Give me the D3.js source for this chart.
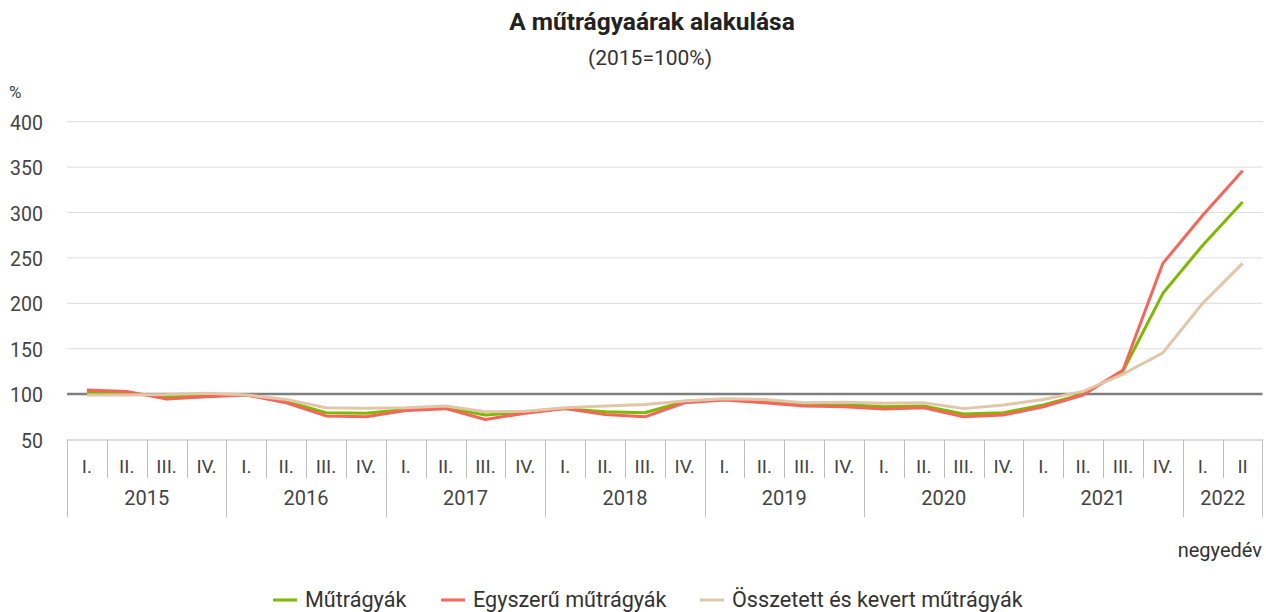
<!DOCTYPE html>
<html>
<head>
<meta charset="utf-8">
<script src="https://cdn.jsdelivr.net/npm/d3@7"></script>
<style>
  body { margin: 0; background: #fff; }
  svg { font-family: Roboto, "Noto Sans", sans-serif; }
</style>
</head>
<body>
<svg id="chart" width="1266" height="612"></svg>
<script>
// data
const categories = [
  "2015 I.", "2015 II.", "2015 III.", "2015 IV.",
  "2016 I.", "2016 II.", "2016 III.", "2016 IV.",
  "2017 I.", "2017 II.", "2017 III.", "2017 IV.",
  "2018 I.", "2018 II.", "2018 III.", "2018 IV.",
  "2019 I.", "2019 II.", "2019 III.", "2019 IV.",
  "2020 I.", "2020 II.", "2020 III.", "2020 IV.",
  "2021 I.", "2021 II.", "2021 III.", "2021 IV.",
  "2022 I.", "2022 II"
]
const years = ["2015", "2016", "2017", "2018", "2019", "2020", "2021", "2022"]

const mutragyak = [102, 101, 97, 98, 99, 92, 79.5, 79, 83, 85, 77, 80, 84, 80.5, 79.5, 92,
  94, 92, 88.5, 88.5, 86, 87, 78, 79.5, 88, 100, 125.5, 211, 264, 311.5]
const egyszeru = [104.5, 103, 94.5, 97, 99, 90.5, 76, 75, 82, 84, 72, 79, 84, 77.5, 75, 90.5,
  93.5, 90.5, 87, 86, 83.5, 85, 75, 77, 86, 99, 126.5, 244, 297, 346]
const osszetett = [99, 99, 99.5, 101, 99, 94, 85, 84.5, 85, 87, 80.5, 81, 85, 87, 88.5, 92.5,
  95, 94, 90.5, 91, 90, 90.5, 84, 88, 94, 103, 122, 145.5, 200, 244]

const seriesNames = ["Műtrágyák", "Egyszerű műtrágyák", "Összetett és kevert műtrágyák"]
const seriesColors = ["#7fb800", "#f5655a", "#e2c6aa"]
const yTicks = [50, 100, 150, 200, 250, 300, 350, 400]

const series = [mutragyak, egyszeru, osszetett].map((values, i) => ({
  name: seriesNames[i],
  color: seriesColors[i],
  values: values.map((v, j) => ({cat: categories[j], value: v}))
}))

/*************************
 *  scales
*************************/
const svg = d3.select('#chart')
const plotLeft = 67, plotRight = 1262.5, plotTop = 121.7, plotBottom = 439.5

const x = d3.scaleBand()
  .domain(categories)
  .range([plotLeft, plotRight])

const y = d3.scaleLinear()
  .domain([50, 400])
  .range([plotBottom, plotTop])

/*************************
 *  titles
*************************/
svg.append('text')
  .attr('x', 652).attr('y', 30)
  .attr('text-anchor', 'middle')
  .attr('font-size', 24.5).attr('font-weight', 'bold')
  .attr('fill', '#222')
  .text('A műtrágyaárak alakulása')

svg.append('text')
  .attr('x', 650).attr('y', 65)
  .attr('text-anchor', 'middle')
  .attr('font-size', 21)
  .attr('fill', '#333')
  .text('(2015=100%)')

svg.append('text')
  .attr('x', 9).attr('y', 98)
  .attr('font-size', 17)
  .attr('fill', '#444')
  .text('%')

/*************************
 *  y axis + grid
*************************/
svg.append('g')
  .selectAll('line')
  .data(yTicks.filter(d => d > 50 && d != 100))
  .join('line')
  .attr('x1', plotLeft).attr('x2', plotRight)
  .attr('y1', d => y(d)).attr('y2', d => y(d))
  .attr('stroke', '#dcdcdc')
  .attr('stroke-width', 1)

svg.append('g')
  .selectAll('text')
  .data(yTicks)
  .join('text')
  .attr('x', 43)
  .attr('y', d => y(d) + 8)
  .attr('text-anchor', 'end')
  .attr('font-size', 19.5)
  .attr('fill', '#444')
  .text(d => d)

svg.append('line')
  .attr('x1', plotLeft).attr('x2', plotRight)
  .attr('y1', y(100)).attr('y2', y(100))
  .attr('stroke', '#7f7f7f')
  .attr('stroke-width', 2.5)

/*************************
 *  category axis (quarters + years)
*************************/
const axisG = svg.append('g').attr('id', 'catAxis')
const qBottom = 478, yBottom = 517

axisG.append('line')
  .attr('x1', plotLeft).attr('x2', plotRight)
  .attr('y1', plotBottom + 0.5).attr('y2', plotBottom + 0.5)
  .attr('stroke', '#bdbdbd')

axisG.selectAll('.qDiv')
  .data(categories)
  .join('line')
  .attr('class', 'qDiv')
  .attr('x1', d => Math.round(x(d)) + 0.5).attr('x2', d => Math.round(x(d)) + 0.5)
  .attr('y1', plotBottom)
  .attr('y2', d => d.endsWith(' I.') ? yBottom : qBottom)
  .attr('stroke', '#bdbdbd')

axisG.append('line')
  .attr('x1', plotRight).attr('x2', plotRight)
  .attr('y1', plotBottom).attr('y2', yBottom)
  .attr('stroke', '#bdbdbd')

axisG.selectAll('.qLabel')
  .data(categories)
  .join('text')
  .attr('class', 'qLabel')
  .attr('x', d => x(d) + x.bandwidth() / 2)
  .attr('y', 473)
  .attr('text-anchor', 'middle')
  .attr('font-size', 19)
  .attr('fill', '#444')
  .text(d => d.split(' ')[1])

axisG.selectAll('.yearLabel')
  .data(years)
  .join('text')
  .attr('class', 'yearLabel')
  .attr('x', yr => {
    let cats = categories.filter(c => c.startsWith(yr))
    return (x(cats[0]) + x(cats[cats.length - 1]) + x.bandwidth()) / 2
  })
  .attr('y', 505)
  .attr('text-anchor', 'middle')
  .attr('font-size', 20)
  .attr('fill', '#444')
  .text(d => d)

svg.append('text')
  .attr('x', 1262).attr('y', 557)
  .attr('text-anchor', 'end')
  .attr('font-size', 20)
  .attr('fill', '#333')
  .text('negyedév')

/*************************
 *  lines
*************************/
const line = d3.line()
  .x(d => x(d.cat) + x.bandwidth() / 2)
  .y(d => y(d.value))

svg.append('g')
  .selectAll('path')
  .data(series)
  .join('path')
  .attr('d', d => line(d.values))
  .attr('fill', 'none')
  .attr('stroke', d => d.color)
  .attr('stroke-width', 3)
  .attr('stroke-linejoin', 'round')

/*************************
 *  legend
*************************/
const legendX = [273, 441, 700]
const legend = svg.append('g')
  .selectAll('g')
  .data(series)
  .join('g')
  .attr('transform', (d, i) => `translate(${legendX[i]}, 600)`)

legend.append('line')
  .attr('x1', 0).attr('x2', 24)
  .attr('y1', 0).attr('y2', 0)
  .attr('stroke', d => d.color)
  .attr('stroke-width', 3)

legend.append('text')
  .attr('x', 32).attr('y', 7)
  .attr('font-size', 21.6)
  .attr('fill', '#333')
  .text(d => d.name)
</script>
</body>
</html>
